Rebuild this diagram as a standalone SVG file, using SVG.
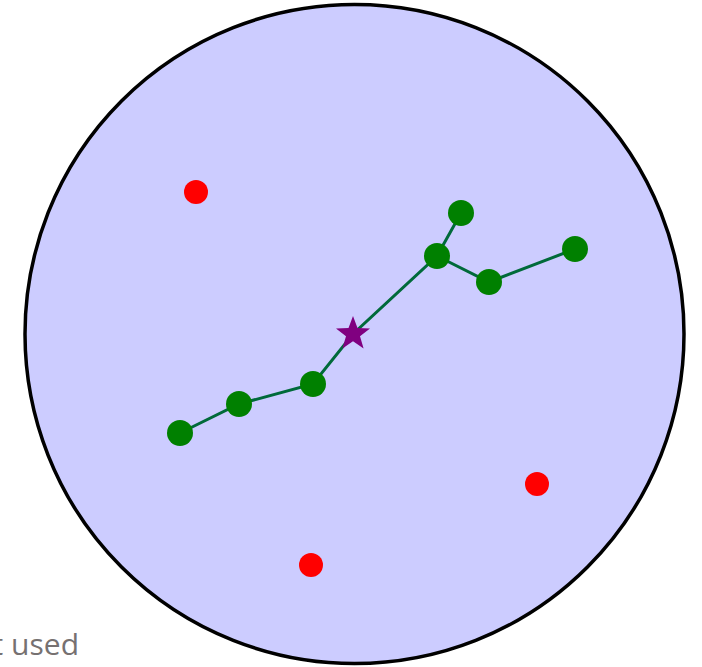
<svg xmlns="http://www.w3.org/2000/svg" width="702" height="667" viewBox="0 0 702 667">
<style>
.edge{stroke:#006a3a;stroke-width:3;fill:none}
.g{fill:#008000}
.r{fill:#ff0000}
.lbl{font-family:"Open Sans","Liberation Sans",sans-serif;font-size:30px;fill:#767171}
</style>
<rect width="702" height="667" fill="#ffffff"/>
<g id="region"><circle cx="354.5" cy="334" r="329.5" fill="#ccccff" stroke="#000000" stroke-width="3.5"/></g>
<g id="connectors">
<polyline class="edge" points="180,433 239,404 313,384 353,334 437,256 461,213"/>
<polyline class="edge" points="437,256 489,282 575,249"/>
</g>
<g id="n1"><circle class="g" cx="180" cy="433" r="13"/></g>
<g id="n2"><circle class="g" cx="239" cy="404" r="13"/></g>
<g id="n3"><circle class="g" cx="313" cy="384" r="13"/></g>
<g id="n4"><circle class="g" cx="437" cy="256" r="13"/></g>
<g id="n5"><circle class="g" cx="461" cy="213" r="13"/></g>
<g id="n6"><circle class="g" cx="489" cy="282" r="13"/></g>
<g id="n7"><circle class="g" cx="575" cy="249" r="13"/></g>
<g id="star"><polygon fill="#800080" points="353,316 357.5,328 370,328.5 360,336.3 363.6,348.5 353,341.3 342.4,348.5 346,336.3 336,328.5 348.5,328"/></g>
<g id="r1"><circle class="r" cx="196" cy="192" r="12"/></g>
<g id="r2"><circle class="r" cx="537" cy="484" r="12"/></g>
<g id="r3"><circle class="r" cx="311" cy="565" r="12"/></g>
<text class="lbl" x="79" y="655" text-anchor="end">not used</text>
</svg>
